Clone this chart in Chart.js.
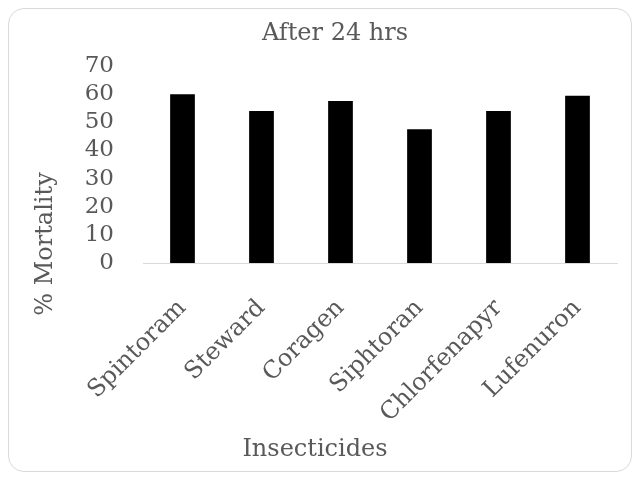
<!DOCTYPE html>
<html>
<head>
<meta charset="utf-8">
<script src="https://cdn.jsdelivr.net/npm/chart.js@4"></script>
<style>
  body { margin: 0; background: #fff; }
  #frame {
    position: absolute; left: 8px; top: 8px; width: 622px; height: 462px;
    border: 1px solid #d9d9d9; border-radius: 16px;
  }
  #wrap { position: absolute; left: 0; top: 0; width: 640px; height: 479px; }
</style>
</head>
<body>
<div id="frame"></div>
<div id="wrap"><canvas id="mortalityChart"></canvas></div>
<script>
// insecticides tested and mortality after 24 hrs
let insecticides = ['Spintoram', 'Steward', 'Coragen', 'Siphtoran', 'Chlorfenapyr', 'Lufenuron'];
let mortality = [60, 54, 57.6, 47.5, 54, 59.4];
let yTicks = [0, 10, 20, 30, 40, 50, 60, 70];

const ctx = document.getElementById('mortalityChart');
const textColor = '#595959';
const serif = 'DejaVu Serif';

// chart title and axis titles, placed where the original has them
const chartTexts = {
  id: 'chartTexts',
  afterDraw(chart) {
    const c = chart.ctx;
    c.save();
    c.fillStyle = textColor;
    c.font = '24px "' + serif + '"';
    c.textAlign = 'center';
    c.textBaseline = 'alphabetic';
    c.fillText('After 24 hrs', 335, 40);
    c.fillText('Insecticides', 315, 456);
    c.translate(52, 244);
    c.rotate(-Math.PI / 2);
    c.fillText('% Mortality', 0, 0);
    c.restore();
  },
};

// eslint-disable-next-line no-undef
new Chart(ctx, {
  type: 'bar',
  data: {
    labels: insecticides,
    datasets: [
      {
        data: mortality,
        backgroundColor: '#000000',
        borderWidth: 0,
        categoryPercentage: 1,
        barPercentage: 0.313,
      },
    ],
  },
  plugins: [chartTexts],
  options: {
    responsive: true,
    maintainAspectRatio: false,
    animation: false,
    layout: {
      padding: { left: 0, right: 23, top: 66, bottom: 20 },
    },
    plugins: {
      legend: { display: false },
      tooltip: { enabled: false },
      title: { display: false },
    },
    scales: {
      x: {
        grid: { display: false, drawTicks: false },
        border: { display: true, color: '#d9d9d9', width: 1 },
        ticks: {
          color: textColor,
          font: { family: serif, size: 24 },
          maxRotation: 45,
          minRotation: 45,
          autoSkip: false,
          padding: 31,
        },
      },
      y: {
        min: 0,
        max: 70,
        grid: { display: false, drawTicks: false },
        border: { display: false },
        afterFit: (scale) => {
          scale.width = 143;
        },
        afterBuildTicks: (scale) => {
          scale.ticks = yTicks.map((v) => ({ value: v }));
        },
        ticks: {
          color: textColor,
          font: { family: serif, size: 23 },
          autoSkip: false,
          padding: 29,
        },
      },
    },
  },
});
</script>
</body>
</html>
